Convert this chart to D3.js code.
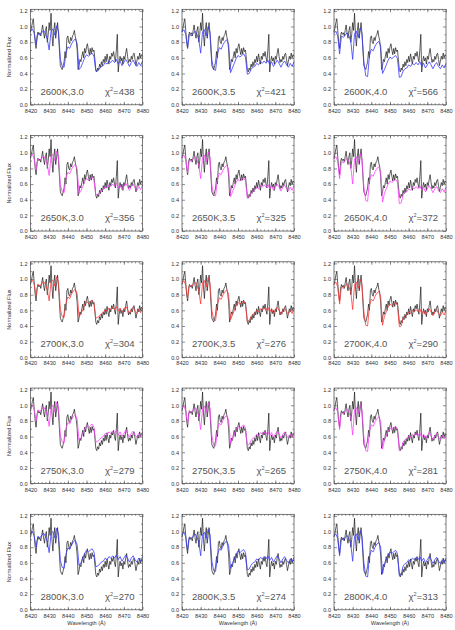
<!DOCTYPE html>
<html><head><meta charset="utf-8">
<script src="https://cdn.jsdelivr.net/npm/d3@7"></script>
<style>body{margin:0;background:#fff}svg{display:block}</style>
</head><body>
<script>
// Observed spectrum (0.5 Å steps from 8420 to 8480)
const obsStart = 8420, obsStep = 0.5;
const observed = [0.93,0.98,1.05,1.10,0.95,0.80,0.72,0.88,0.93,0.90,0.92,0.88,0.95,1.02,0.92,0.85,0.95,1.00,0.80,0.90,
1.05,0.95,1.17,0.90,0.75,0.95,1.05,0.85,0.95,1.05,0.90,0.70,0.50,0.47,0.45,0.50,0.55,0.68,0.60,0.85,
0.88,0.80,0.78,0.86,0.82,0.88,0.90,0.95,0.87,0.82,0.70,0.45,0.50,0.58,0.55,0.62,0.68,0.60,0.72,0.66,
0.74,0.78,0.70,0.64,0.72,0.65,0.73,0.68,0.70,0.58,0.45,0.42,0.47,0.44,0.52,0.48,0.55,0.50,0.58,0.54,
0.62,0.55,0.65,0.58,0.52,0.62,0.58,0.66,0.62,0.68,0.60,0.55,0.70,0.90,0.42,0.55,0.62,0.56,0.60,0.52,
0.62,0.58,0.66,0.72,0.62,0.54,0.58,0.55,0.62,0.58,0.64,0.66,0.58,0.50,0.56,0.62,0.58,0.66,0.60,0.64,0.62];

// Model spectra (1 Å steps from 8420 to 8480)
const modelStart = 8420, modelStep = 1;
const m2600_30 = [0.94,0.97,0.91,0.77,0.91,0.89,0.92,0.95,0.91,0.84,0.70,0.94,0.97,0.89,1.01,0.94,
0.58,0.49,0.48,0.66,0.74,0.72,0.78,0.82,0.84,0.78,
0.45,0.48,0.54,0.60,0.64,0.62,0.64,0.66,0.62,0.43,0.44,0.46,0.49,0.50,0.54,0.52,0.56,0.54,0.57,0.54,0.58,0.52,0.56,0.50,0.54,0.58,0.54,0.49,0.54,0.57,0.52,0.49,0.54,0.50,0.56];
const m2600_35 = [0.93,0.96,0.90,0.73,0.90,0.88,0.91,0.94,0.90,0.83,0.66,0.93,0.96,0.88,1.00,0.93,
0.57,0.45,0.44,0.65,0.73,0.71,0.77,0.81,0.83,0.77,
0.41,0.47,0.53,0.59,0.63,0.61,0.63,0.65,0.61,0.39,0.40,0.45,0.48,0.49,0.53,0.51,0.55,0.53,0.56,0.53,0.57,0.51,0.55,0.49,0.53,0.57,0.53,0.48,0.53,0.56,0.51,0.48,0.53,0.49,0.55];
const m2600_40 = [0.91,0.94,0.88,0.65,0.88,0.86,0.89,0.92,0.88,0.81,0.58,0.91,0.94,0.86,0.98,0.91,
0.55,0.37,0.36,0.63,0.71,0.69,0.75,0.79,0.81,0.75,
0.40,0.45,0.51,0.57,0.61,0.59,0.61,0.63,0.59,0.35,0.36,0.43,0.46,0.47,0.51,0.49,0.53,0.51,0.54,0.51,0.55,0.49,0.53,0.47,0.51,0.55,0.51,0.46,0.51,0.54,0.49,0.46,0.51,0.47,0.53];
const m2650_30 = [0.95,0.98,0.92,0.78,0.92,0.90,0.93,0.96,0.92,0.85,0.71,0.95,0.98,0.90,1.02,0.95,
0.59,0.50,0.49,0.67,0.75,0.73,0.79,0.83,0.85,0.79,
0.48,0.51,0.57,0.63,0.67,0.65,0.67,0.69,0.65,0.46,0.47,0.49,0.52,0.53,0.57,0.55,0.59,0.57,0.60,0.57,0.61,0.55,0.59,0.53,0.57,0.61,0.57,0.52,0.57,0.60,0.55,0.52,0.57,0.53,0.59];
const m2650_35 = [0.94,0.97,0.91,0.74,0.91,0.89,0.92,0.95,0.91,0.84,0.67,0.94,0.97,0.89,1.01,0.94,
0.58,0.46,0.45,0.66,0.74,0.72,0.78,0.82,0.84,0.78,
0.44,0.50,0.56,0.62,0.66,0.64,0.66,0.68,0.64,0.42,0.43,0.48,0.51,0.52,0.56,0.54,0.58,0.56,0.59,0.56,0.60,0.54,0.58,0.52,0.56,0.60,0.56,0.51,0.56,0.59,0.54,0.51,0.56,0.52,0.58];
const m2650_40 = [0.92,0.95,0.89,0.67,0.89,0.87,0.90,0.93,0.89,0.82,0.60,0.92,0.95,0.87,0.99,0.92,
0.56,0.39,0.38,0.64,0.72,0.70,0.76,0.80,0.82,0.76,
0.37,0.48,0.54,0.60,0.64,0.62,0.64,0.66,0.62,0.35,0.36,0.46,0.49,0.50,0.54,0.52,0.56,0.54,0.57,0.54,0.58,0.52,0.56,0.50,0.54,0.58,0.54,0.49,0.54,0.57,0.52,0.49,0.54,0.50,0.56];
const m2700_30 = [0.96,0.99,0.93,0.79,0.93,0.91,0.94,0.97,0.93,0.86,0.72,0.96,0.99,0.91,1.03,0.96,
0.61,0.52,0.51,0.69,0.77,0.75,0.81,0.85,0.87,0.81,
0.52,0.55,0.61,0.67,0.71,0.69,0.71,0.73,0.69,0.50,0.51,0.53,0.56,0.57,0.61,0.59,0.63,0.61,0.64,0.61,0.65,0.59,0.63,0.57,0.61,0.65,0.61,0.56,0.61,0.64,0.59,0.56,0.61,0.57,0.63];
const m2700_35 = [0.95,0.98,0.92,0.75,0.92,0.90,0.93,0.96,0.92,0.85,0.68,0.95,0.98,0.90,1.02,0.95,
0.60,0.48,0.47,0.68,0.76,0.74,0.80,0.84,0.86,0.80,
0.48,0.54,0.60,0.66,0.70,0.68,0.70,0.72,0.68,0.46,0.47,0.52,0.55,0.56,0.60,0.58,0.62,0.60,0.63,0.60,0.64,0.58,0.62,0.56,0.60,0.64,0.60,0.55,0.60,0.63,0.58,0.55,0.60,0.56,0.62];
const m2700_40 = [0.93,0.96,0.90,0.68,0.90,0.88,0.91,0.94,0.90,0.83,0.61,0.93,0.96,0.88,1.00,0.93,
0.58,0.41,0.40,0.66,0.74,0.72,0.78,0.82,0.84,0.78,
0.41,0.52,0.58,0.64,0.68,0.66,0.68,0.70,0.66,0.39,0.40,0.50,0.53,0.54,0.58,0.56,0.60,0.58,0.61,0.58,0.62,0.56,0.60,0.54,0.58,0.62,0.58,0.53,0.58,0.61,0.56,0.53,0.58,0.54,0.60];
const m2750_30 = [0.97,1.00,0.94,0.80,0.94,0.92,0.95,0.98,0.94,0.87,0.73,0.97,1.00,0.92,1.04,0.97,
0.62,0.53,0.52,0.70,0.78,0.76,0.82,0.86,0.88,0.82,
0.55,0.58,0.64,0.70,0.74,0.72,0.74,0.76,0.72,0.53,0.54,0.56,0.59,0.60,0.64,0.62,0.66,0.64,0.67,0.64,0.68,0.62,0.66,0.60,0.64,0.68,0.64,0.59,0.64,0.67,0.62,0.59,0.64,0.60,0.66];
const m2750_35 = [0.96,0.99,0.93,0.76,0.93,0.91,0.94,0.97,0.93,0.86,0.69,0.96,0.99,0.91,1.03,0.96,
0.61,0.49,0.48,0.69,0.77,0.75,0.81,0.85,0.87,0.81,
0.51,0.57,0.63,0.69,0.73,0.71,0.73,0.75,0.71,0.49,0.50,0.55,0.58,0.59,0.63,0.61,0.65,0.63,0.66,0.63,0.67,0.61,0.65,0.59,0.63,0.67,0.63,0.58,0.63,0.66,0.61,0.58,0.63,0.59,0.65];
const m2750_40 = [0.94,0.97,0.91,0.69,0.91,0.89,0.92,0.95,0.91,0.84,0.62,0.94,0.97,0.89,1.01,0.94,
0.59,0.42,0.41,0.67,0.75,0.73,0.79,0.83,0.85,0.79,
0.44,0.55,0.61,0.67,0.71,0.69,0.71,0.73,0.69,0.42,0.43,0.53,0.56,0.57,0.61,0.59,0.63,0.61,0.64,0.61,0.65,0.59,0.63,0.57,0.61,0.65,0.61,0.56,0.61,0.64,0.59,0.56,0.61,0.57,0.63];
const m2800_30 = [0.97,1.00,0.94,0.80,0.94,0.92,0.95,0.98,0.94,0.87,0.73,0.97,1.00,0.92,1.04,0.97,
0.63,0.54,0.53,0.71,0.79,0.77,0.83,0.87,0.89,0.83,
0.57,0.60,0.66,0.72,0.76,0.74,0.76,0.78,0.74,0.55,0.56,0.58,0.61,0.62,0.66,0.64,0.68,0.66,0.69,0.66,0.70,0.64,0.68,0.62,0.66,0.70,0.66,0.61,0.66,0.69,0.64,0.61,0.66,0.62,0.68];
const m2800_35 = [0.96,0.99,0.93,0.76,0.93,0.91,0.94,0.97,0.93,0.86,0.69,0.96,0.99,0.91,1.03,0.96,
0.62,0.50,0.49,0.70,0.78,0.76,0.82,0.86,0.88,0.82,
0.53,0.59,0.65,0.71,0.75,0.73,0.75,0.77,0.73,0.51,0.52,0.57,0.60,0.61,0.65,0.63,0.67,0.65,0.68,0.65,0.69,0.63,0.67,0.61,0.65,0.69,0.65,0.60,0.65,0.68,0.63,0.60,0.65,0.61,0.67];
const m2800_40 = [0.94,0.97,0.91,0.69,0.91,0.89,0.92,0.95,0.91,0.84,0.62,0.94,0.97,0.89,1.01,0.94,
0.60,0.43,0.42,0.68,0.76,0.74,0.80,0.84,0.86,0.80,
0.46,0.58,0.64,0.70,0.74,0.72,0.74,0.76,0.72,0.44,0.45,0.56,0.59,0.60,0.64,0.62,0.66,0.64,0.67,0.64,0.68,0.62,0.66,0.60,0.64,0.68,0.64,0.59,0.64,0.67,0.62,0.59,0.64,0.60,0.66];

const temps = ["2600K","2650K","2700K","2750K","2800K"];
const loggs = ["3.0","3.5","4.0"];
const models = [
  [m2600_30, m2600_35, m2600_40],
  [m2650_30, m2650_35, m2650_40],
  [m2700_30, m2700_35, m2700_40],
  [m2750_30, m2750_35, m2750_40],
  [m2800_30, m2800_35, m2800_40]
];
const chi2 = [
  [438, 421, 566],
  [356, 325, 372],
  [304, 276, 290],
  [279, 265, 281],
  [270, 274, 313]
];
const rowColors = ["#3a3aff", "#ff40ff", "#ff3a3a", "#ff40ff", "#3a3aff"];
const xTicks = [8420, 8430, 8440, 8450, 8460, 8470, 8480];
const yTicks = [0.0, 0.2, 0.4, 0.6, 0.8, 1.0, 1.2];

const W = 455, H = 630;
const colX = [30.5, 182, 334], rowY0 = 9.3, rowStep = 126.25;
const pw = 112, ph = 95.5;
const font = "'Liberation Sans', Arial, sans-serif";
const axisColor = "#444";

const svg = d3.select("body").append("svg").attr("width", W).attr("height", H);

const x = d3.scaleLinear().domain([8420, 8480]).range([0, pw]);
const y = d3.scaleLinear().domain([0, 1.22]).range([ph, 0]);

const obsPts = observed.map((v, i) => [obsStart + i * obsStep, v]);
const line = d3.line().x(d => x(d[0])).y(d => y(d[1]));

temps.forEach((t, r) => {
  loggs.forEach((g, c) => {
    const gp = svg.append("g").attr("transform", `translate(${colX[c]},${rowY0 + r * rowStep})`);
    // spectra
    gp.append("path").datum(obsPts).attr("d", line)
      .attr("fill", "none").attr("stroke", "#1a1a1a").attr("stroke-width", 0.7);
    const mp = models[r][c].map((v, i) => [modelStart + i * modelStep, v]);
    gp.append("path").datum(mp).attr("d", line)
      .attr("fill", "none").attr("stroke", rowColors[r]).attr("stroke-width", 0.8);
    // frame
    gp.append("rect").attr("x", 0).attr("y", 0).attr("width", pw).attr("height", ph)
      .attr("fill", "none").attr("stroke", axisColor).attr("stroke-width", 0.7);
    // axes
    const xb = d3.axisBottom(x).tickValues(xTicks).tickSize(-3).tickPadding(4).tickFormat(d3.format("d"));
    const xbm = d3.axisBottom(x).tickValues(d3.range(8422, 8480, 2)).tickSize(-1.5).tickFormat("");
    const xt = d3.axisTop(x).tickValues(xTicks).tickSize(-3).tickFormat("");
    const xtm = d3.axisTop(x).tickValues(d3.range(8422, 8480, 2)).tickSize(-1.5).tickFormat("");
    const yl = d3.axisLeft(y).tickValues(yTicks).tickSize(-3).tickPadding(3).tickFormat(d3.format(".1f"));
    const ylm = d3.axisLeft(y).tickValues(d3.range(0.1, 1.21, 0.2)).tickSize(-1.5).tickFormat("");
    const yr = d3.axisRight(y).tickValues(yTicks).tickSize(-3).tickFormat("");
    const yrm = d3.axisRight(y).tickValues(d3.range(0.1, 1.21, 0.2)).tickSize(-1.5).tickFormat("");
    const axes = [
      [xb, `translate(0,${ph})`], [xbm, `translate(0,${ph})`],
      [xt, "translate(0,0)"], [xtm, "translate(0,0)"],
      [yl, "translate(0,0)"], [ylm, "translate(0,0)"],
      [yr, `translate(${pw},0)`], [yrm, `translate(${pw},0)`]
    ];
    axes.forEach(([ax, tr]) => {
      const a = gp.append("g").attr("transform", tr).call(ax);
      a.select(".domain").remove();
      a.selectAll("line").attr("stroke", axisColor).attr("stroke-width", 0.6);
      a.selectAll("text").attr("font-family", font).attr("font-size", 5.6).attr("fill", "#333");
    });
    // labels
    gp.append("text").attr("x", 10).attr("y", ph - 10)
      .attr("font-family", font).attr("font-size", 9.5).attr("fill", "#555")
      .text(`${t},${g}`);
    const ct = gp.append("text").attr("x", pw - 8).attr("y", ph - 10).attr("text-anchor", "end")
      .attr("font-family", font).attr("font-size", 9.5).attr("fill", "#555");
    ct.append("tspan").text("χ");
    ct.append("tspan").attr("dy", -4).attr("font-size", 5.5).text("2");
    ct.append("tspan").attr("dy", 4).text(`=${chi2[r][c]}`);

    if (c === 0) {
      gp.append("text").attr("transform", `translate(${-20},${ph / 2}) rotate(-90)`)
        .attr("text-anchor", "middle").attr("font-family", font).attr("font-size", 5.6).attr("fill", "#333")
        .text("Normalized Flux");
    }
    if (r === temps.length - 1) {
      gp.append("text").attr("x", pw / 2).attr("y", ph + 15).attr("text-anchor", "middle")
        .attr("font-family", font).attr("font-size", 5.6).attr("fill", "#333")
        .text("Wavelength (Å)");
    }
  });
});
</script>
</body></html>
